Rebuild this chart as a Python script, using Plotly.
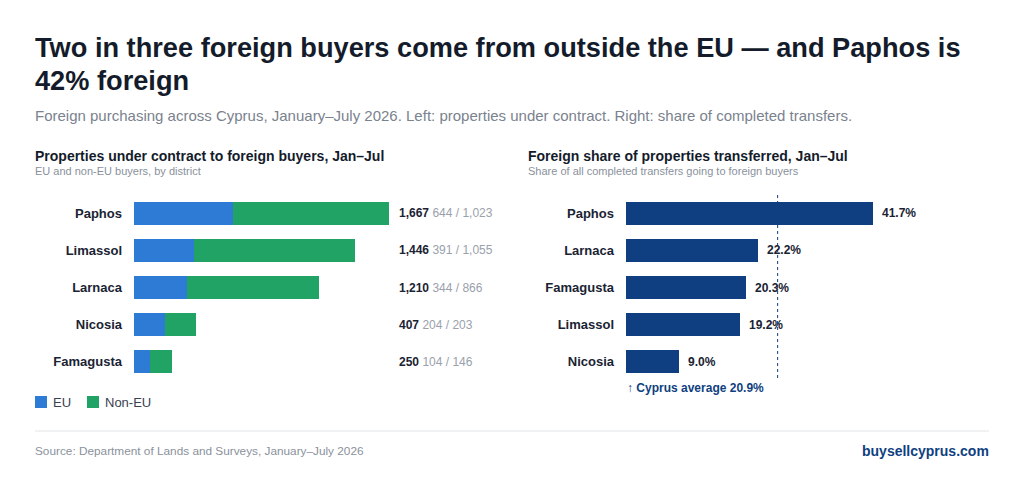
import plotly.graph_objects as go

districts = ["Paphos", "Limassol", "Larnaca", "Nicosia", "Famagusta"]
eu = [644, 391, 344, 204, 104]
non_eu = [1023, 1055, 866, 203, 146]
totals = [1667, 1446, 1210, 407, 250]

share_districts = ["Paphos", "Larnaca", "Famagusta", "Limassol", "Nicosia"]
share = [41.7, 22.2, 20.3, 19.2, 9.0]
cyprus_avg = 20.9
avg_line_pos = 25.6  # where the reference draws its dashed marker

W, H = 1024, 482
OFF = 8  # page body margin
def py(p): return 1 - (p - OFF) / H
def px(p): return (p - OFF) / W

BLUE, GREEN, NAVY = "#2e7bd6", "#21a366", "#0f3f80"
FONT = "Liberation Sans, Arial, sans-serif"

fig = go.Figure()
fig.add_bar(y=districts, x=eu, orientation="h", marker_color=BLUE, name="EU",
            width=0.6, xaxis="x", yaxis="y", marker_line_width=0)
fig.add_bar(y=districts, x=non_eu, orientation="h", marker_color=GREEN, name="Non-EU",
            width=0.6, xaxis="x", yaxis="y", marker_line_width=0)
fig.add_bar(y=share_districts, x=share, orientation="h", marker_color=NAVY,
            width=0.6, xaxis="x2", yaxis="y2", marker_line_width=0)

ann = []
for d, t, e, n in zip(districts, totals, eu, non_eu):
    ann.append(dict(x=px(397), y=d, xref="paper", yref="y", xanchor="left", showarrow=False,
                    text=f"<b>{t:,}</b> <span style='color:#9aa1ab'>{e:,} / {n:,}</span>",
                    font=dict(size=12, color="#1a2333")))
for d, s in zip(share_districts, share):
    ann.append(dict(x=s, y=d, xref="x2", yref="y2", xanchor="left", xshift=7, showarrow=False,
                    text=f"<b>{s:.1f}%</b>", font=dict(size=12, color="#1a2333")))

def txt(x, y, text, size, color, bold=False, xanchor="left"):
    ann.append(dict(x=px(x - 2 if xanchor == "left" else x + 2), y=py(y), xref="paper", yref="paper",
                    xanchor=xanchor, yanchor="middle", showarrow=False, align="left",
                    text=f"<b>{text}</b>" if bold else text, font=dict(size=size, color=color)))

txt(35, 47, "Two in three foreign buyers come from outside the EU — and Paphos is", 27.2, "#141c2b", True)
txt(35, 80, "42% foreign", 27.2, "#141c2b", True)
txt(35, 116, "Foreign purchasing across Cyprus, January–July 2026. Left: properties under contract. Right: share of completed transfers.", 15, "#7a828e")
txt(35, 156, "Properties under contract to foreign buyers, Jan–Jul", 14, "#141c2b", True)
txt(35, 171, "EU and non-EU buyers, by district", 11, "#8a919c")
txt(528, 156, "Foreign share of properties transferred, Jan–Jul", 14, "#141c2b", True)
txt(528, 171, "Share of all completed transfers going to foreign buyers", 11, "#8a919c")
txt(627, 388, "↑ Cyprus average " + f"{cyprus_avg}%", 12, NAVY, True)
txt(35, 451, "Source: Department of Lands and Surveys, January–July 2026", 11.8, "#8a919c")
txt(989, 451, "buysellcyprus.com", 14, NAVY, True, xanchor="right")

shapes = [
    dict(type="line", xref="x2", yref="paper", x0=avg_line_pos, x1=avg_line_pos,
         y0=py(195), y1=py(378), line=dict(color=NAVY, width=1, dash="3px,3px")),
    dict(type="line", xref="paper", yref="paper", x0=px(35), x1=px(989), y0=py(431), y1=py(431),
         line=dict(color="#e1e4e8", width=1)),
]

# legend drawn manually
for lx, name, col in [(35, "EU", BLUE), (87, "Non-EU", GREEN)]:
    shapes.append(dict(type="rect", xref="paper", yref="paper", x0=px(lx), x1=px(lx + 12),
                       y0=py(408), y1=py(396), fillcolor=col, line_width=0))
    txt(lx + 18, 402, name, 13, "#3a4250")

ydom = [py(380), py(195)]
fig.update_layout(
    width=W, height=H, margin=dict(l=0, r=0, t=0, b=0),
    paper_bgcolor="white", plot_bgcolor="white", barmode="stack", showlegend=False,
    font=dict(family=FONT, color="#1a2333"),
    xaxis=dict(domain=[px(134), px(480)], range=[0, 1667 * 346 / 255], visible=False),
    yaxis=dict(domain=ydom, autorange="reversed", showgrid=False, ticks="", showline=False,
               tickfont=dict(size=13, color="#1a2333", weight="bold"), ticklabelstandoff=11),
    xaxis2=dict(domain=[px(626), px(990)], range=[0, 41.7 * 364 / 247], visible=False, anchor="y2"),
    yaxis2=dict(domain=ydom, anchor="x2", autorange="reversed", showgrid=False, ticks="", showline=False,
                tickfont=dict(size=13, color="#1a2333", weight="bold"), ticklabelstandoff=11),
    annotations=ann, shapes=shapes,
)
fig.write_html("out.html")
